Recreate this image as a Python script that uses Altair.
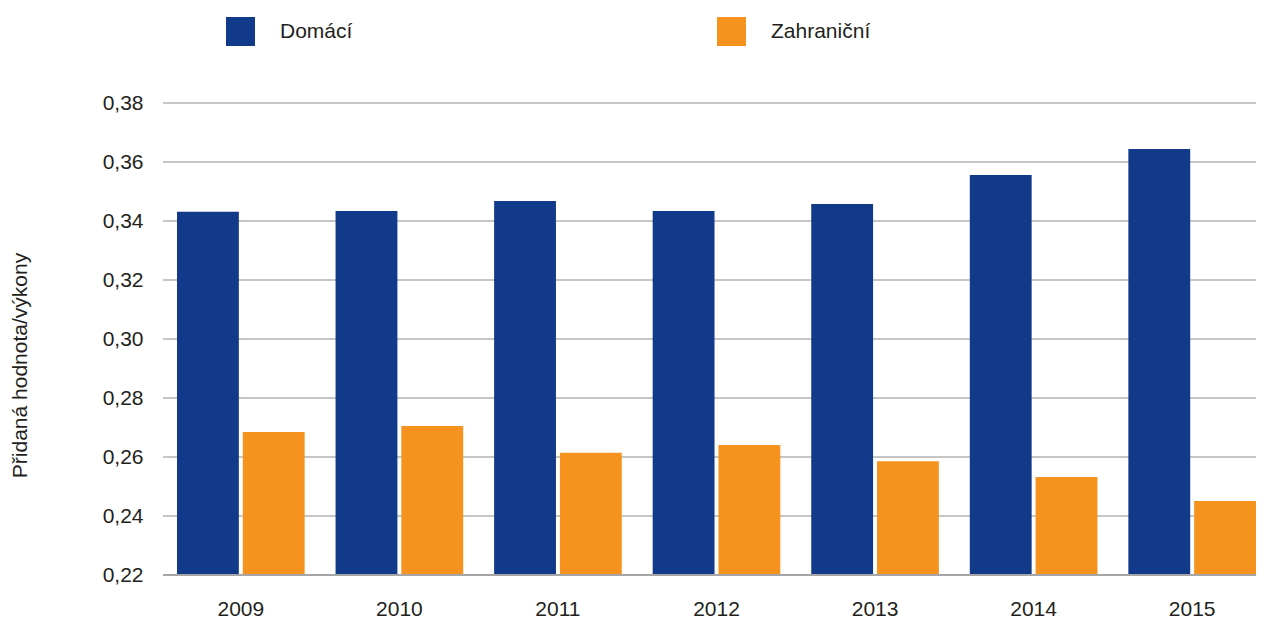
import altair as alt
import pandas as pd

years = ["2009", "2010", "2011", "2012", "2013", "2014", "2015"]
domaci = [0.3431, 0.3434, 0.3468, 0.3434, 0.3458, 0.3556, 0.3644]
zahranicni = [0.2685, 0.2705, 0.2614, 0.2641, 0.2586, 0.2532, 0.2451]
series = ["Domácí", "Zahraniční"]
colors = ["#123a8a", "#f6921e"]
y_ticks = [0.22, 0.24, 0.26, 0.28, 0.30, 0.32, 0.34, 0.36, 0.38]

rows = []
for i, y in enumerate(years):
    rows.append({"rok": y, "serie": series[0], "hodnota": domaci[i]})
    rows.append({"rok": y, "serie": series[1], "hodnota": zahranicni[i]})
df = pd.DataFrame(rows)
grid_df = pd.DataFrame({"hodnota": y_ticks})

FONT = "Liberation Sans"
W = 1093
H = 472

y_scale = alt.Scale(domain=[0.22, 0.38], zero=False, nice=False)
y_axis = alt.Axis(values=y_ticks,
                  labelExpr="replace(format(datum.value, '.2f'), '.', ',')",
                  labelFontSize=21, labelFont=FONT, labelColor="#231f20",
                  labelPadding=20, ticks=False, domain=False, grid=False,
                  titleFontSize=21, titleFont=FONT, titleColor="#231f20",
                  titleFontWeight="normal", titleX=-133, titleY=262)
y_enc = alt.Y("hodnota:Q", title="Přidaná hodnota/výkony", scale=y_scale, axis=y_axis)

grid = alt.Chart(grid_df).mark_rule(color="#b3b3b3", strokeWidth=1.3).encode(
    y=y_enc,
    x=alt.value(0),
    x2=alt.value(W),
)

bars = alt.Chart(df).mark_bar().encode(
    x=alt.X("rok:N", sort=years, title=None,
            scale=alt.Scale(paddingInner=0.195, paddingOuter=0, range=[14, W], round=False),
            axis=alt.Axis(labelAngle=0, labelFontSize=21, labelFont=FONT,
                          labelColor="#231f20", labelPadding=23, ticks=False,
                          domain=False, grid=False)),
    xOffset=alt.XOffset("serie:N", sort=series,
                        scale=alt.Scale(paddingInner=0.06, paddingOuter=0)),
    y=y_enc,
    y2=alt.datum(0.22),
    color=alt.Color("serie:N", sort=series,
                    scale=alt.Scale(domain=series, range=colors),
                    legend=alt.Legend(title=None, orient="none", legendX=63, legendY=-86,
                                      direction="horizontal", symbolType="square",
                                      symbolSize=841, symbolStrokeWidth=0,
                                      labelFontSize=21, labelFont=FONT,
                                      labelColor="#231f20", labelOffset=25,
                                      columnPadding=364, labelLimit=300)),
)

bottom_line = alt.Chart(pd.DataFrame({"hodnota": [y_ticks[0]]})).mark_rule(
    color="#a6a6a6", strokeWidth=2).encode(
    y=y_enc, x=alt.value(0), x2=alt.value(W))

chart = alt.layer(grid, bars, bottom_line).properties(
    width=W,
    height=H,
    autosize=alt.AutoSizeParams(type="none"),
    padding={"left": 155, "top": 95, "right": 0, "bottom": 44},
).configure_view(stroke=None)

chart.save("out.html", embed_options={"renderer": "svg", "actions": False})
